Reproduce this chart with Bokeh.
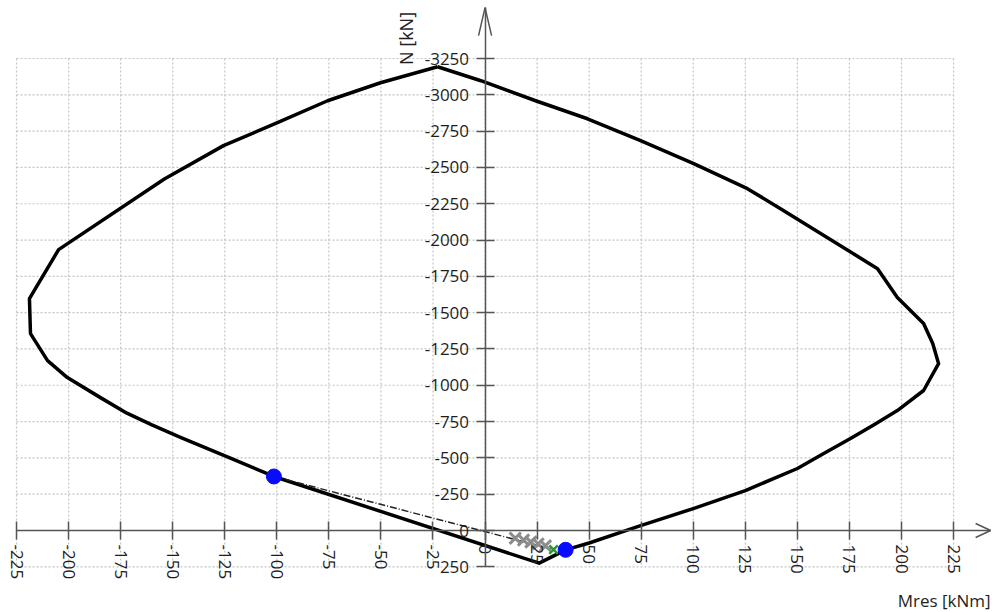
import math
from bokeh.plotting import figure
from bokeh.models import Range1d, FixedTicker, Label
from bokeh.embed import file_html
from bokeh.resources import INLINE

# ---- data ----
m_ticks = list(range(-225, 226, 25))
n_ticks = list(range(-3250, 251, 250))

# interaction diagram envelope (Mres [kNm], N [kN]) - closed
env_m = [-22.8, -2.0, 24.3, 49.2, 74.7, 100.2, 126.0, 141.9, 188.5, 198.0, 210.6, 215.0,
         217.8, 210.6, 198.0, 187.0, 175.5, 162.0, 150.0, 125.0, 100.0, 74.7, 50.0, 38.7, 26.0,
         -101.4, -122.0, -146.0, -160.0, -172.0, -184.7, -200.6, -210.1, -218.3, -218.8,
         -204.8, -154.0, -125.6, -99.7, -75.6, -50.2, -22.8]
env_n = [-3193, -3097, -2959, -2835, -2684, -2526, -2354, -2216, -1803, -1604, -1425, -1287,
         -1149, -964, -826, -730, -633, -525, -427, -275, -151, -34, 86, 133, 225,
         -372, -496, -640, -727, -808, -915, -1053, -1170, -1356, -1597,
         -1934, -2420, -2650, -2808, -2959, -3083, -3193]

# load path (dash-dot)
path_m = [-101.4, 32.9]
path_n = [-372, 131]

# intermediate iteration points (grey crosses)
iter_m = [14.5, 18.5, 22.0, 25.5, 29.0]
iter_n = [53, 66, 79, 92, 105]

# resulting point (green cross)
res_m = [32.9]
res_n = [131]

# design points (blue dots)
dot_m = [-101.4, 38.7]
dot_n = [-372, 133]

# ---- figure ----
W, H = 992, 612
x_start, x_end = -232.7, 243.7
y_start, y_end = 564.6, -3649.4
xs = W / (x_end - x_start)
ys = H / (y_start - y_end)

p = figure(width=W, height=H, x_range=Range1d(x_start, x_end), y_range=Range1d(y_start, y_end),
           output_backend="svg", toolbar_location=None, min_border=0)
p.outline_line_color = None
p.xgrid.visible = False
p.ygrid.visible = False
p.background_fill_color = "white"
p.border_fill_color = "white"

# grid (bounded to tick area)
grid_col = "#c4c4c4"
p.segment(x0=m_ticks, y0=[n_ticks[0]] * len(m_ticks), x1=m_ticks, y1=[n_ticks[-1]] * len(m_ticks),
          line_color=grid_col, line_width=1.2, line_dash="2 2")
p.segment(x0=[m_ticks[0]] * len(n_ticks), y0=n_ticks, x1=[m_ticks[-1]] * len(n_ticks), y1=n_ticks,
          line_color=grid_col, line_width=1.2, line_dash="2 2")

axis_col = "#555555"
for ax in (p.xaxis[0], p.yaxis[0]):
    ax.fixed_location = 0
    ax.axis_line_color = axis_col
    ax.axis_line_width = 1.5
    ax.major_tick_line_color = axis_col
    ax.major_tick_line_width = 1.5
    ax.major_tick_in = 9
    ax.major_tick_out = 9
    ax.minor_tick_line_color = None
    ax.major_label_text_font = "Open Sans"
    ax.major_label_text_font_size = "17px"
    ax.major_label_text_color = "#1e1e1e"

p.xaxis.ticker = FixedTicker(ticks=m_ticks)
p.xaxis.major_label_overrides = {t: str(t) for t in m_ticks}
p.xaxis.bounds = (m_ticks[0], 242.8)
p.xaxis.major_label_orientation = "vertical"
p.xaxis.major_label_standoff = 5
p.yaxis.ticker = FixedTicker(ticks=n_ticks)
p.yaxis.major_label_overrides = {t: str(t) for t in n_ticks}
p.yaxis.bounds = (-3600, n_ticks[-1])
p.yaxis.major_label_standoff = 7

# arrow heads
top_tip = -3600
right_tip = 242.8
p.segment(x0=[0, 0, right_tip, right_tip],
          y0=[top_tip, top_tip, 0, 0],
          x1=[-6.5 / xs, 6.5 / xs, right_tip - 15 / xs, right_tip - 15 / xs],
          y1=[top_tip + 28 / ys, top_tip + 28 / ys, -7 / ys, 7 / ys],
          line_color=axis_col, line_width=1.5)

# envelope
p.line(env_m, env_n, line_color="black", line_width=3.5, line_join="round")

# load path
p.line(path_m, path_n, line_color="#222222", line_width=1.5, line_dash="7 2 1 2")

# iteration crosses
p.scatter(iter_m, iter_n, marker="x", size=16, line_color="#8c8c8c", line_width=3)
p.scatter(res_m, res_n, marker="x", size=12, line_color="#2a9a2a", line_width=2.5)

# design points
p.scatter(dot_m, dot_n, marker="circle", size=15, fill_color="#0a0aff", line_color="#0a0aff")

# axis titles
p.add_layout(Label(x=-38.2, y=-3388, text="N [kN]", angle=math.pi / 2, text_align="center",
                   text_baseline="middle", text_font="Open Sans", text_font_size="18px",
                   text_color="#1e1e1e"))
p.add_layout(Label(x=242.8, y=482, text="Mres [kNm]", text_align="right",
                   text_baseline="middle", text_font="Open Sans", text_font_size="17px",
                   text_color="#1e1e1e"))

open("out.html", "w").write(file_html(p, INLINE))
